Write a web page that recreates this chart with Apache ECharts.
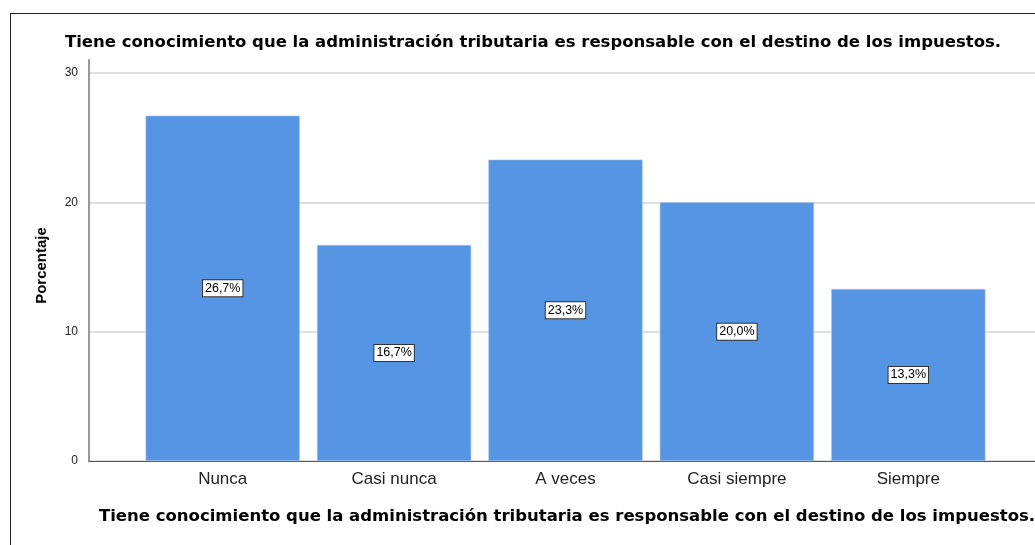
<!DOCTYPE html>
<html>
<head>
<meta charset="utf-8">
<script src="https://cdn.jsdelivr.net/npm/echarts@6/dist/echarts.min.js"></script>
<style>
html,body{margin:0;padding:0;background:#fff;overflow:hidden;}
#frame{position:absolute;left:10px;top:13px;width:1100px;height:600px;border:1px solid #222;box-sizing:border-box;}
#chart{position:absolute;left:0;top:0;width:1035px;height:545px;}
</style>
</head>
<body>
<div id="frame"></div>
<div id="chart"></div>
<script>
const categories = ['Nunca', 'Casi nunca', 'A veces', 'Casi siempre', 'Siempre'];
const values = [26.7, 16.7, 23.3, 20.0, 13.3];
const yTicks = [0, 10, 20, 30];
const titleText = 'Tiene conocimiento que la administración tributaria es responsable con el destino de los impuestos.';
const yName = 'Porcentaje';

const chart = echarts.init(document.getElementById('chart'), null, {renderer: 'canvas'});
const TOP = 60, BOTTOM = 84;
const titleFont = {fontFamily: 'DejaVu Sans', fontWeight: 'bold', fontSize: 16.5, color: '#000'};
const option = {
  backgroundColor: 'transparent',
  animation: false,
  title: [{
    text: titleText,
    left: 528, top: 29, textAlign: 'center',
    textStyle: titleFont
  }, {
    text: titleText,
    left: 562, top: 503, textAlign: 'center',
    textStyle: titleFont
  }],
  grid: [
    {left: 89, right: 0, top: TOP, bottom: BOTTOM},
    {left: 137, right: 41, top: TOP, bottom: BOTTOM}
  ],
  xAxis: [
    {type: 'category', gridIndex: 0, data: [''], axisLine: {show: true, lineStyle: {color: '#555', width: 1}},
     axisTick: {show: false}, axisLabel: {show: false}},
    {type: 'category', gridIndex: 1, data: categories, axisLine: {show: false}, axisTick: {show: false},
     axisLabel: {fontFamily: 'Liberation Sans, Arial', fontSize: 17, color: '#222', margin: 10}}
  ],
  yAxis: [
    {type: 'value', gridIndex: 0, min: 0, max: 31, interval: 10,
     name: yName, nameLocation: 'middle', nameGap: 40, nameRotate: 90,
     nameTextStyle: {fontFamily: 'Liberation Sans, Arial', fontWeight: 'bold', fontSize: 15, color: '#000', padding: [0, 10, 0, 0]},
     axisLine: {show: true, lineStyle: {color: '#999', width: 2}},
     axisTick: {show: false},
     axisLabel: {showMaxLabel: false, fontFamily: 'Liberation Sans, Arial', fontSize: 12, color: '#222', margin: 11,
       formatter: v => (yTicks.indexOf(v) >= 0 ? String(v) : '')},
     splitLine: {show: true, showMaxLine: false, lineStyle: {color: '#d4d4d4', width: 1.5}}},
    {type: 'value', gridIndex: 1, min: 0, max: 31, interval: 10, show: false, splitLine: {show: false}}
  ],
  series: [{
    type: 'bar',
    xAxisIndex: 1, yAxisIndex: 1,
    data: values,
    barCategoryGap: '10%',
    itemStyle: {color: '#5595e3', borderColor: '#a9c8f0', borderWidth: 0.6},
    label: {
      show: true, position: 'inside',
      formatter: p => p.value.toFixed(1).replace('.', ',') + '%',
      fontFamily: 'Liberation Sans, Arial', fontSize: 12.5, color: '#000',
      backgroundColor: '#fff', borderColor: '#333', borderWidth: 1, padding: [2, 2, 1, 2]
    }
  }]
};
chart.setOption(option);
</script>
</body>
</html>
